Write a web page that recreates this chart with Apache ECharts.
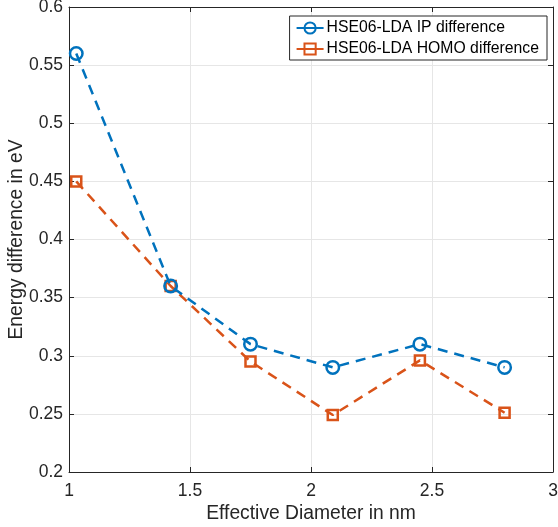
<!DOCTYPE html>
<html><head><meta charset="utf-8">
<script src="https://cdn.jsdelivr.net/npm/echarts@6/dist/echarts.min.js"></script>
<style>html,body{margin:0;padding:0;background:#fff}#c{width:558px;height:527px}</style>
</head><body><div id="c"></div>
<script>
const diameters = [1.03, 1.42, 1.75, 2.09, 2.45, 2.80];
const ipDiff = [0.56, 0.36, 0.31, 0.29, 0.31, 0.29];
const homoDiff = [0.45, 0.36, 0.295, 0.249, 0.296, 0.251];
const seriesNames = ['HSE06-LDA IP difference', 'HSE06-LDA HOMO difference'];
const xName = 'Effective Diameter in nm';
const yName = 'Energy difference in eV';

const font = 'Liberation Sans, Arial, Helvetica, sans-serif';
const axisCol = '#262626';
const gridCol = '#e6e6e6';
const blue = '#0072BD', orange = '#D95319';

function pairs(xs, ys){ return xs.map((x,i)=>[x, ys[i]]); }

const chart = echarts.init(document.getElementById('c'), null, {renderer:'canvas'});
const baseX = {
  type:'value', min:1, max:3, interval:0.5,
  axisLine:{show:true, onZero:false, lineStyle:{color:axisCol, width:1}},
  axisTick:{show:true, inside:true, length:5, lineStyle:{color:axisCol}},
  splitLine:{show:false}
};
const baseY = {
  type:'value', min:0.2, max:0.6, interval:0.05,
  axisLine:{show:true, onZero:false, lineStyle:{color:axisCol, width:1}},
  axisTick:{show:true, inside:true, length:5, lineStyle:{color:axisCol}},
  splitLine:{show:false}
};
chart.setOption({
  animation:false,
  backgroundColor:'#fff',
  grid:{left:69, right:5, top:7, bottom:55, containLabel:false, outerBoundsMode:'none'},
  legend:{
    show:true, right:11, top:16, orient:'vertical',
    backgroundColor:'#fff', borderColor:axisCol, borderWidth:1, borderRadius:0,
    padding:[4,8,3,6], itemGap:5, itemWidth:27, itemHeight:14,
    lineStyle:{type:'solid'},
    textStyle:{fontFamily:font, fontSize:15.75, color:'#000', padding:[0,0,0,-2]},
    data:seriesNames
  },
  xAxis:[
    Object.assign({}, baseX, {
      position:'bottom',
      name:xName, nameLocation:'middle', nameGap:32, nameMoveOverlap:false,
      nameTextStyle:{fontFamily:font, fontSize:19.3, color:axisCol},
      axisLabel:{show:true, fontFamily:font, fontSize:17.5, color:axisCol, margin:10},
      splitLine:{show:true, lineStyle:{color:gridCol, width:1}}
    }),
    Object.assign({}, baseX, {position:'top', axisLabel:{show:false}})
  ],
  yAxis:[
    Object.assign({}, baseY, {
      position:'left',
      name:yName, nameLocation:'middle', nameGap:43, nameMoveOverlap:false,
      nameTextStyle:{fontFamily:font, fontSize:19.3, color:axisCol},
      axisLabel:{show:true, fontFamily:font, fontSize:17.5, color:axisCol, margin:6,
        formatter:v=>String(parseFloat(v.toFixed(2)))},
      splitLine:{show:true, lineStyle:{color:gridCol, width:1}}
    }),
    Object.assign({}, baseY, {position:'right', axisLabel:{show:false}})
  ],
  series:[
    {
      name:seriesNames[0], type:'line', data:pairs(diameters, ipDiff),
      symbol:'circle', symbolSize:12.5, z:3,
      lineStyle:{color:blue, width:2.5, type:[10,7]},
      itemStyle:{color:'rgba(255,255,255,0)', borderColor:blue, borderWidth:2.5},
      emphasis:{disabled:true}
    },
    {
      name:seriesNames[1], type:'line', data:pairs(diameters, homoDiff),
      symbol:'rect', symbolSize:10, z:2,
      lineStyle:{color:orange, width:2.5, type:[10,7]},
      itemStyle:{color:'rgba(255,255,255,0)', borderColor:orange, borderWidth:2.5},
      emphasis:{disabled:true}
    }
  ]
});
</script></body></html>
